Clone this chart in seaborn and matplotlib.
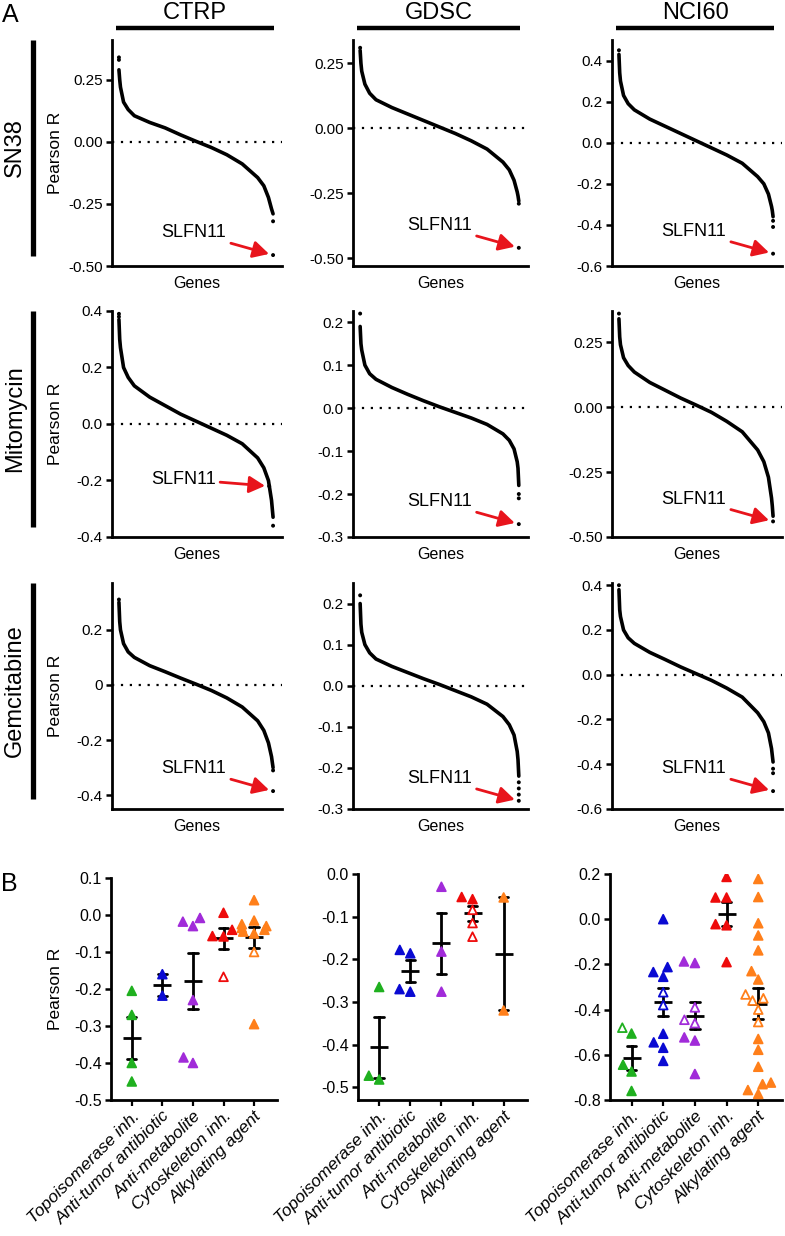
import numpy as np
import pandas as pd
import matplotlib
matplotlib.use("Agg")
import matplotlib.pyplot as plt
import seaborn as sns
from matplotlib.lines import Line2D

# ---------------- data: panel A (sorted gene correlations) ----------------
datasets = ["CTRP", "GDSC", "NCI60"]
drugs = ["SN38", "Mitomycin", "Gemcitabine"]
rank_pct = [0, 0.5, 1, 3, 6, 10, 20, 30, 40, 50, 60, 70, 80, 90, 94, 97, 99, 99.5, 100]

sn38_ctrp = [0.29, 0.25, 0.22, 0.16, 0.13, 0.105, 0.078, 0.056, 0.028, 0.002, -0.023, -0.052, -0.089, -0.144, -0.177, -0.224, -0.27, -0.28, -0.29]
sn38_gdsc = [0.30, 0.25, 0.22, 0.17, 0.135, 0.11, 0.08, 0.055, 0.03, 0.005, -0.02, -0.048, -0.08, -0.13, -0.16, -0.2, -0.245, -0.26, -0.28]
sn38_nci60 = [0.43, 0.34, 0.30, 0.23, 0.19, 0.16, 0.115, 0.08, 0.045, 0.01, -0.025, -0.06, -0.1, -0.165, -0.2, -0.25, -0.31, -0.33, -0.36]
mito_ctrp = [0.37, 0.30, 0.27, 0.2, 0.165, 0.135, 0.095, 0.065, 0.035, 0.01, -0.015, -0.04, -0.07, -0.12, -0.155, -0.2, -0.27, -0.3, -0.33]
mito_gdsc = [0.19, 0.15, 0.135, 0.1, 0.08, 0.067, 0.048, 0.032, 0.017, 0.003, -0.01, -0.023, -0.038, -0.06, -0.075, -0.095, -0.125, -0.14, -0.18]
mito_nci60 = [0.34, 0.27, 0.24, 0.19, 0.16, 0.135, 0.095, 0.065, 0.035, 0.008, -0.02, -0.055, -0.095, -0.165, -0.21, -0.27, -0.35, -0.38, -0.42]
gem_ctrp = [0.30, 0.23, 0.2, 0.15, 0.12, 0.1, 0.07, 0.048, 0.025, 0.003, -0.02, -0.047, -0.08, -0.13, -0.165, -0.21, -0.26, -0.28, -0.3]
gem_gdsc = [0.2, 0.15, 0.13, 0.1, 0.08, 0.065, 0.047, 0.032, 0.017, 0.003, -0.012, -0.027, -0.045, -0.075, -0.095, -0.12, -0.16, -0.18, -0.22]
gem_nci60 = [0.38, 0.29, 0.26, 0.2, 0.165, 0.14, 0.1, 0.068, 0.035, 0.005, -0.025, -0.06, -0.1, -0.17, -0.21, -0.26, -0.33, -0.36, -0.39]

# isolated extreme genes at the top / bottom of each ranking
top_extra = [[[0.34, 0.33], [0.31], [0.45]],
             [[0.39, 0.38], [0.22], [0.36]],
             [[0.31], [0.22], [0.40]]]
bottom_extra = [[[-0.32], [-0.29], [-0.38, -0.41]],
                [[-0.36], [-0.2, -0.21], []],
                [[-0.31], [-0.235, -0.25, -0.265], [-0.42, -0.44]]]
slfn11_r = [[-0.456, -0.46, -0.54],
            [-0.22, -0.27, -0.44],
            [-0.385, -0.28, -0.52]]
slfn11_rank = [[100, 100, 100],
               [97.5, 100, 100],
               [100, 100, 100]]

a_ylims = [[(-0.5, 0.41), (-0.53, 0.34), (-0.6, 0.5)],
           [(-0.4, 0.4), (-0.3, 0.226), (-0.5, 0.37)],
           [(-0.45, 0.37), (-0.3, 0.25), (-0.6, 0.41)]]
a_yticks = [[[-0.5, -0.25, 0, 0.25], [-0.5, -0.25, 0, 0.25], [-0.6, -0.4, -0.2, 0, 0.2, 0.4]],
            [[-0.4, -0.2, 0, 0.2, 0.4], [-0.3, -0.2, -0.1, 0, 0.1, 0.2], [-0.5, -0.25, 0, 0.25]],
            [[-0.4, -0.2, 0, 0.2], [-0.3, -0.2, -0.1, 0, 0.1, 0.2], [-0.6, -0.4, -0.2, 0, 0.2, 0.4]]]
a_yticklabels = [[["-0.50", "-0.25", "0.00", "0.25"], ["-0.50", "-0.25", "0.00", "0.25"], ["-0.6", "-0.4", "-0.2", "0.0", "0.2", "0.4"]],
                 [["-0.4", "-0.2", "0.0", "0.2", "0.4"], ["-0.3", "-0.2", "-0.1", "0.0", "0.1", "0.2"], ["-0.50", "-0.25", "0.00", "0.25"]],
                 [["-0.4", "-0.2", "0", "0.2"], ["-0.3", "-0.2", "-0.1", "0.0", "0.1", "0.2"], ["-0.6", "-0.4", "-0.2", "0.0", "0.2", "0.4"]]]

curves = [[sn38_ctrp, sn38_gdsc, sn38_nci60],
          [mito_ctrp, mito_gdsc, mito_nci60],
          [gem_ctrp, gem_gdsc, gem_nci60]]

# ---------------- data: panel B (drug classes) ----------------
drug_classes = ["Topoisomerase inh.", "Anti-tumor antibiotic", "Anti-metabolite",
                "Cytoskeleton inh.", "Alkylating agent"]
class_colors = ["#1fb01f", "#0a0ad2", "#a12bd9", "#ee0b0b", "#ff7f1a"]

# marker codes: f = filled, o = open, d = filled with black centre dot
ctrp_topo = [-0.205, -0.27, -0.40, -0.45];                 ctrp_topo_m = "ffff"
ctrp_antitumor = [-0.16, -0.218];                          ctrp_antitumor_m = "ff"
ctrp_antimet = [-0.018, -0.008, -0.03, -0.23, -0.40, -0.385]; ctrp_antimet_m = "ffffff"
ctrp_cyto = [0.006, -0.04, -0.057, -0.058, -0.167];       ctrp_cyto_m = "ffffo"
ctrp_alkyl = [0.04, -0.015, -0.025, -0.03, -0.035, -0.04, -0.045, -0.05, -0.10, -0.295]
ctrp_alkyl_m = "ffffffffof"

gdsc_topo = [-0.265, -0.473, -0.482];                      gdsc_topo_m = "ddd"
gdsc_antitumor = [-0.178, -0.186, -0.27, -0.276];          gdsc_antitumor_m = "ffff"
gdsc_antimet = [-0.03, -0.182, -0.276];                    gdsc_antimet_m = "fdd"
gdsc_cyto = [-0.054, -0.059, -0.084, -0.115, -0.147];     gdsc_cyto_m = "ffooo"
gdsc_alkyl = [-0.055, -0.32];                              gdsc_alkyl_m = "dd"

nci_topo = [-0.48, -0.506, -0.644, -0.674, -0.76];        nci_topo_m = "odddd"
nci_antitumor = [0.0, -0.212, -0.234, -0.255, -0.323, -0.38, -0.507, -0.545, -0.569, -0.627]
nci_antitumor_m = "ffffooffff"
nci_antimet = [-0.187, -0.194, -0.39, -0.445, -0.46, -0.523, -0.537, -0.685]
nci_antimet_m = "ffoooddd"
nci_cyto = [0.187, 0.096, 0.096, -0.022, -0.027, -0.19];  nci_cyto_m = "ffffff"
nci_alkyl = [0.178, 0.098, -0.018, -0.072, -0.138, -0.23, -0.267, -0.333, -0.35, -0.36,
             -0.40, -0.455, -0.53, -0.578, -0.653, -0.723, -0.73, -0.756, -0.773]
nci_alkyl_m = "fffffffoooooddddddd"

b_values = [[ctrp_topo, ctrp_antitumor, ctrp_antimet, ctrp_cyto, ctrp_alkyl],
            [gdsc_topo, gdsc_antitumor, gdsc_antimet, gdsc_cyto, gdsc_alkyl],
            [nci_topo, nci_antitumor, nci_antimet, nci_cyto, nci_alkyl]]
b_markers = [[ctrp_topo_m, ctrp_antitumor_m, ctrp_antimet_m, ctrp_cyto_m, ctrp_alkyl_m],
             [gdsc_topo_m, gdsc_antitumor_m, gdsc_antimet_m, gdsc_cyto_m, gdsc_alkyl_m],
             [nci_topo_m, nci_antitumor_m, nci_antimet_m, nci_cyto_m, nci_alkyl_m]]
b_ylims = [(-0.5, 0.1), (-0.53, 0.0), (-0.8, 0.2)]
b_yticks = [[-0.5, -0.4, -0.3, -0.2, -0.1, 0.0, 0.1],
            [-0.5, -0.4, -0.3, -0.2, -0.1, 0.0],
            [-0.8, -0.6, -0.4, -0.2, 0.0, 0.2]]

# ---------------- figure ----------------
sns.set_theme(style="white")
plt.rcParams["font.family"] = ["Liberation Sans", "DejaVu Sans"]
plt.rcParams["axes.unicode_minus"] = False

W, H = 785, 1236
fig = plt.figure(figsize=(W / 100, H / 100), dpi=100)
fig.patch.set_facecolor("white")


def px_axes(x0, x1, y0, y1):
    return fig.add_axes([x0 / W, 1 - y1 / H, (x1 - x0) / W, (y1 - y0) / H])


def style_axes(ax):
    ax.set_facecolor("white")
    ax.grid(False)
    for s in ("top", "right"):
        ax.spines[s].set_visible(False)
    for s in ("left", "bottom"):
        ax.spines[s].set_linewidth(2.0)
        ax.spines[s].set_color("black")
    ax.tick_params(axis="y", left=True, direction="out", length=4.5, width=1.8,
                   labelsize=11, pad=2, color="black", labelcolor="black")


a_cols = [(112, 282), (353, 528), (612, 782)]
a_rows = [(40, 266), (311, 537), (583, 809)]
red = "#e8141c"

for r in range(3):
    for c in range(3):
        x0, x1 = a_cols[c]
        y0, y1 = a_rows[r]
        ax = px_axes(x0, x1, y0, y1)
        style_axes(ax)
        ax.axhline(0, color="black", lw=1.6, ls=(0, (1, 3.0)), zorder=0)
        sns.lineplot(x=rank_pct, y=curves[r][c], color="black", linewidth=2.6, ax=ax)
        tx = [0] * len(top_extra[r][c]) + [100] * len(bottom_extra[r][c])
        ty = top_extra[r][c] + bottom_extra[r][c]
        if ty:
            sns.scatterplot(x=tx, y=ty, color="black", s=8, edgecolor="none", ax=ax)
        sns.scatterplot(x=[slfn11_rank[r][c]], y=[slfn11_r[r][c]], color="black", s=8,
                        edgecolor="none", ax=ax)
        ax.set_xlim(-4.5, 105.8)
        ax.set_ylim(*a_ylims[r][c])
        ax.set_yticks(a_yticks[r][c])
        ax.set_yticklabels(a_yticklabels[r][c])
        ax.set_xticks([])
        ax.set_ylabel("")
        ax.set_xlabel("Genes", fontsize=11.5, labelpad=7, color="black")
        offs = (-62, 5) if (r == 1 and c == 0) else (-57, 16)
        ax.annotate("SLFN11", xy=(slfn11_rank[r][c], slfn11_r[r][c]), xytext=offs,
                    textcoords="offset points", ha="center", va="center", fontsize=13,
                    color="black",
                    arrowprops=dict(arrowstyle="-|>,head_length=0.6,head_width=0.32",
                                    color=red, lw=2.0, shrinkA=1, shrinkB=3,
                                    mutation_scale=16))

# panel B
b_cols = [(111, 277), (358, 527), (610, 782)]
b_tops = [878, 874, 874]
b_bottom = 1100
swarm_info = []
for c in range(3):
    x0, x1 = b_cols[c]
    ax = px_axes(x0, x1, b_tops[c], b_bottom)
    style_axes(ax)
    rows = []
    for k, cls in enumerate(drug_classes):
        for v in b_values[c][k]:
            rows.append({"cls": cls, "r": v})
    df = pd.DataFrame(rows)
    sns.swarmplot(data=df, x="cls", y="r", hue="cls", order=drug_classes,
                  hue_order=drug_classes, palette=class_colors, marker="^", size=6.3,
                  linewidth=1.3, legend=False, ax=ax, warn_thresh=1.0)
    colls = list(ax.collections)
    for coll in colls:
        off = coll.get_offsets()
        k = int(round(off[0, 0]))
        codes = b_markers[c][k]
        col = class_colors[k]
        coll.set_facecolors([col if m in "fd" else "white" for m in codes])
        coll.set_edgecolors([col] * len(codes))
        coll.set_linewidths(1.3)
        swarm_info.append((ax, coll, codes))
    sns.pointplot(data=df, x="cls", y="r", order=drug_classes, errorbar="se",
                  color="black", linestyle="none", marker="_", markersize=13,
                  markeredgewidth=2.0, capsize=0.3, err_kws={"linewidth": 2.0}, ax=ax)
    ax.set_xlim(-0.68, 4.75)
    ax.set_ylim(*b_ylims[c])
    ax.set_yticks(b_yticks[c])
    ax.set_yticklabels([f"{t:.1f}" for t in b_yticks[c]])
    ax.tick_params(axis="y", labelsize=11.5)
    ax.tick_params(axis="x", bottom=True, direction="out", length=4, width=1.6,
                   color="black", pad=2)
    ax.set_xticks(range(len(drug_classes)))
    ax.set_xticklabels(drug_classes, rotation=45, ha="right", rotation_mode="anchor",
                       fontsize=12.5, style="italic", color="black")
    ax.set_xlabel("")
    ax.set_ylabel("")

# headers, row labels, panel letters
header_bars = [(116, 274), (357, 520), (616, 774)]
for (bx0, bx1), name in zip(header_bars, datasets):
    fig.add_artist(Line2D([bx0 / W, bx1 / W], [1 - 28 / H] * 2, lw=3.2, color="black",
                          solid_capstyle="butt"))
    fig.text((bx0 + bx1) / 2 / W, 1 - 13 / H, name, ha="center", va="center",
             fontsize=17, color="black")

for (y0, y1), name in zip(a_rows, drugs):
    fig.add_artist(Line2D([33 / W] * 2, [1 - y0 / H, 1 - (y1 - 10) / H], lw=3.8,
                          color="black", solid_capstyle="butt"))
    fig.text(15 / W, 1 - ((y0 + y1 - 10) / 2) / H, name, rotation=90, ha="center",
             va="center", fontsize=17, color="black")
    fig.text(56 / W, 1 - ((y0 + y1) / 2) / H, "Pearson R", rotation=90, ha="center",
             va="center", fontsize=12.5, color="black")

fig.text(56 / W, 1 - ((b_tops[0] + b_bottom) / 2) / H, "Pearson R", rotation=90,
         ha="center", va="center", fontsize=12.5, color="black")
fig.text(10 / W, 1 - 15 / H, "A", ha="center", va="center", fontsize=18, color="black")
fig.text(9 / W, 1 - 884 / H, "B", ha="center", va="center", fontsize=18, color="black")

# black centre dots for the marked triangles (after swarm positions are computed)
fig.canvas.draw()
for ax, coll, codes in swarm_info:
    off = coll.get_offsets()
    idx = [i for i, m in enumerate(codes) if m == "d"]
    if idx:
        ax.scatter(off[idx, 0], off[idx, 1], s=4, color="black", zorder=1.5,
                   linewidths=0)

fig.savefig("out.png", dpi=100, facecolor="white")
